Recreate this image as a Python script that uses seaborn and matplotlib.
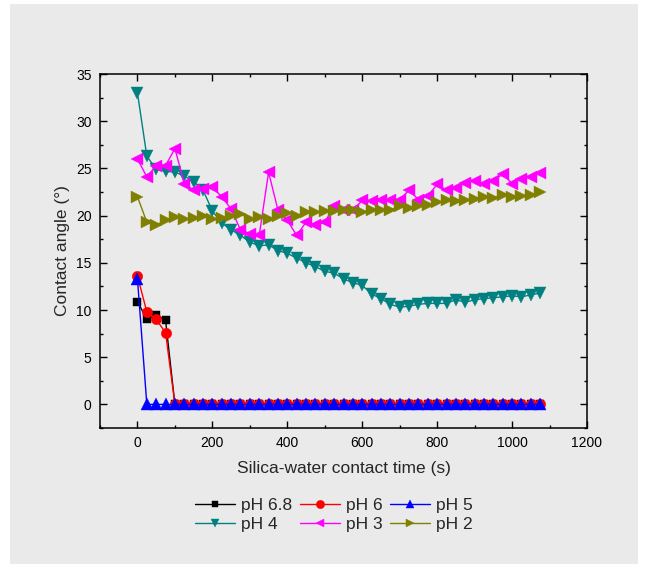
import matplotlib
matplotlib.use("Agg")
import matplotlib.pyplot as plt
import seaborn as sns
import pandas as pd
from matplotlib.patches import Rectangle
from matplotlib.ticker import MultipleLocator

# ---------------- data ----------------
time_s = [0, 25, 50, 75, 100, 125, 150, 175, 200, 225, 250, 275, 300, 325, 350,
          375, 400, 425, 450, 475, 500, 525, 550, 575, 600, 625, 650, 675, 700,
          725, 750, 775, 800, 825, 850, 875, 900, 925, 950, 975, 1000, 1025,
          1050, 1075]

ph68 = [10.9, 9.0, 9.5, 8.9, 0, 0, 0, 0, 0, 0, 0, 0, 0, 0, 0, 0, 0, 0, 0, 0, 0,
        0, 0, 0, 0, 0, 0, 0, 0, 0, 0, 0, 0, 0, 0, 0, 0, 0, 0, 0, 0, 0, 0, 0]
ph6 = [13.6, 9.8, 9.0, 7.6, 0, 0, 0, 0, 0, 0, 0, 0, 0, 0, 0, 0, 0, 0, 0, 0, 0,
       0, 0, 0, 0, 0, 0, 0, 0, 0, 0, 0, 0, 0, 0, 0, 0, 0, 0, 0, 0, 0, 0, 0]
ph5 = [13.3, 0, 0, 0, 0, 0, 0, 0, 0, 0, 0, 0, 0, 0, 0, 0, 0, 0, 0, 0, 0,
       0, 0, 0, 0, 0, 0, 0, 0, 0, 0, 0, 0, 0, 0, 0, 0, 0, 0, 0, 0, 0, 0, 0]
ph4 = [33.0, 26.3, 24.9, 24.7, 24.6, 24.2, 23.6, 22.7, 20.5, 19.2, 18.5, 17.9,
       17.2, 16.8, 16.9, 16.3, 16.0, 15.5, 15.0, 14.6, 14.1, 13.9, 13.3, 12.9,
       12.6, 11.7, 11.2, 10.6, 10.3, 10.4, 10.6, 10.7, 10.7, 10.7, 11.1, 10.8,
       11.1, 11.2, 11.3, 11.4, 11.5, 11.4, 11.6, 11.8]
ph3 = [26.0, 24.1, 25.3, 25.3, 27.1, 23.4, 22.7, 22.8, 23.0, 22.0, 20.7, 18.5,
       18.1, 17.9, 24.6, 20.6, 19.5, 17.9, 19.3, 19.0, 19.3, 21.0, 20.6, 20.6,
       21.6, 21.5, 21.6, 21.6, 21.7, 22.7, 21.7, 22.1, 23.3, 22.7, 22.9, 23.5,
       23.7, 23.4, 23.7, 24.4, 23.4, 23.9, 24.1, 24.5]
ph2 = [22.0, 19.3, 19.0, 19.5, 19.9, 19.6, 19.7, 20.0, 19.6, 19.7, 19.95, 20.2,
       19.6, 19.8, 19.6, 20.0, 20.3, 20.0, 20.4, 20.4, 20.45, 20.5, 20.6, 20.6,
       20.4, 20.6, 20.55, 20.6, 21.0, 20.8, 21.0, 21.1, 21.4, 21.6, 21.5, 21.7,
       21.8, 22.0, 21.9, 22.2, 22.0, 22.1, 22.2, 22.5]

labels = ["pH 6.8", "pH 6", "pH 5", "pH 4", "pH 3", "pH 2"]
series = [ph68, ph6, ph5, ph4, ph3, ph2]
colors = ["#000000", "#FF0000", "#0000FF", "#008080", "#FF00FF", "#808000"]
markers = ["s", "o", "^", "v", "<", ">"]
msizes = [6, 7.5, 8, 8, 8, 8]

x_ticks = [0, 200, 400, 600, 800, 1000, 1200]
y_ticks = [0, 5, 10, 15, 20, 25, 30, 35]

# ---------------- style ----------------
sns.set_style("ticks")
plt.rcParams["font.family"] = ["Liberation Sans", "DejaVu Sans"]

BG = "#EAEAEA"
fig = plt.figure(figsize=(6.46, 5.68), dpi=100, facecolor="white")
fig.patches.append(Rectangle((10 / 646, 1 - 564 / 568), 628 / 646, 560 / 568,
                             transform=fig.transFigure, facecolor=BG,
                             edgecolor="none", zorder=-10))

ax = fig.add_axes([100 / 646, 1 - 428 / 568, 487 / 646, 354 / 568])
ax.set_facecolor(BG)

for lab, vals, col, mk, ms in zip(labels, series, colors, markers, msizes):
    df = pd.DataFrame({"t": time_s, "v": vals})
    sns.lineplot(data=df, x="t", y="v", ax=ax, color=col, marker=mk,
                 markersize=ms, markeredgewidth=0.3, markeredgecolor=col,
                 linewidth=1.0, label=lab, legend=False)

ax.set_xlim(-100, 1200)
ax.set_ylim(-2.5, 35)
ax.set_xticks(x_ticks)
ax.set_yticks(y_ticks)
ax.xaxis.set_minor_locator(MultipleLocator(100))
ax.yaxis.set_minor_locator(MultipleLocator(2.5))
ax.tick_params(which="both", direction="in", top=True, right=True,
               colors="black", width=1.0)
ax.tick_params(which="major", length=5, labelsize=10, pad=6)
ax.tick_params(which="minor", length=2.5)
for sp in ax.spines.values():
    sp.set_visible(True)
    sp.set_linewidth(1.1)
    sp.set_color("black")

ax.set_xlabel("Silica-water contact time (s)", fontsize=12.5, labelpad=8)
ax.set_ylabel("Contact angle (°)", fontsize=12.5, labelpad=4)

handles, labs = ax.get_legend_handles_labels()
order = [0, 3, 1, 4, 2, 5]  # row-major layout for 3 columns x 2 rows
fig.legend([handles[i] for i in order], [labs[i] for i in order], ncol=3,
           loc="center", bbox_to_anchor=(334 / 646, 1 - 515 / 568),
           frameon=False, fontsize=12.5, handlelength=2.3,
           handletextpad=0.35, columnspacing=0.45, labelspacing=0.22,
           borderpad=0, markerscale=0.8)

fig.savefig("out.png", dpi=100, facecolor="white")
